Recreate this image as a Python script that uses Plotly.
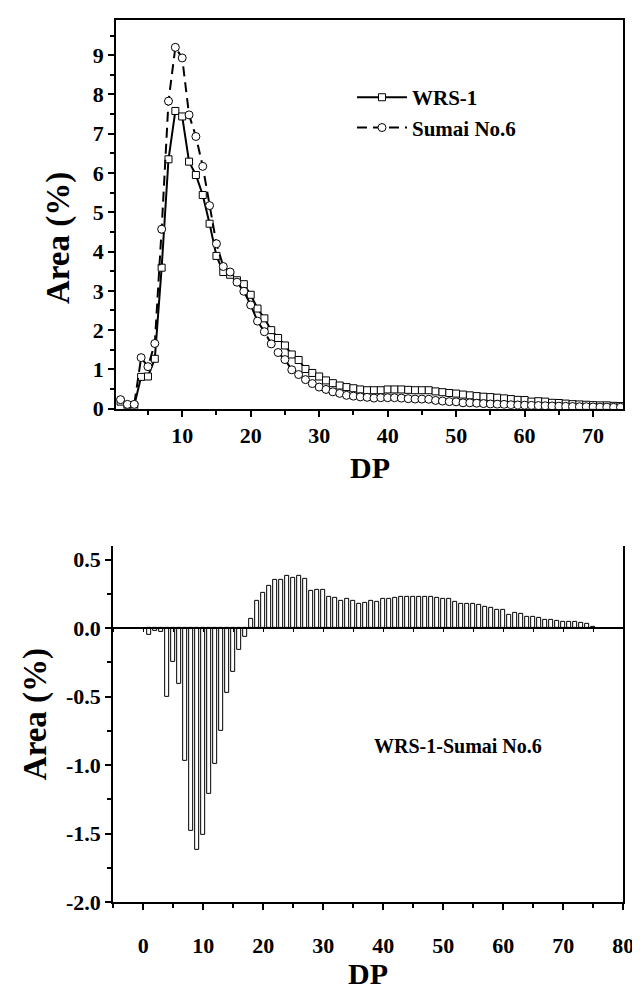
import plotly.graph_objects as go

# ---------------- data ----------------
dp_top = list(range(1, 75))
wrs1 = [0.18, 0.09, 0.08, 0.81, 0.82, 1.27, 3.59, 6.35, 7.58, 7.44,
        6.29, 5.95, 5.44, 4.71, 3.89, 3.48, 3.41, 3.27, 3.17, 2.90,
        2.55, 2.30, 2.00, 1.80, 1.61, 1.38, 1.24, 1.01, 0.91, 0.82,
        0.72, 0.65, 0.59, 0.55, 0.52, 0.49, 0.47, 0.47, 0.47, 0.49,
        0.49, 0.49, 0.48, 0.47, 0.47, 0.47, 0.44, 0.42, 0.40, 0.385,
        0.36, 0.34, 0.32, 0.305, 0.295, 0.28, 0.263, 0.244, 0.225, 0.22,
        0.18, 0.19, 0.18, 0.15, 0.145, 0.13, 0.115, 0.108, 0.10, 0.09,
        0.085, 0.085, 0.073, 0.066]
sumai6 = [0.23, 0.11, 0.11, 1.30, 1.07, 1.66, 4.57, 7.83, 9.20, 8.93,
          7.48, 6.93, 6.17, 5.17, 4.20, 3.62, 3.48, 3.22, 2.99, 2.64,
          2.23, 1.96, 1.65, 1.43, 1.25, 0.99, 0.87, 0.74, 0.64, 0.55,
          0.49, 0.43, 0.39, 0.34, 0.32, 0.30, 0.29, 0.27, 0.28, 0.28,
          0.28, 0.27, 0.255, 0.245, 0.245, 0.24, 0.21, 0.195, 0.18, 0.175,
          0.15, 0.15, 0.14, 0.13, 0.12, 0.115, 0.11, 0.10, 0.095, 0.09,
          0.085, 0.08, 0.075, 0.07, 0.065, 0.06, 0.055, 0.05, 0.05, 0.045,
          0.04, 0.04, 0.035, 0.035]

dp_diff = list(range(1, 76))
diff = [-0.053, -0.02, -0.03, -0.50, -0.245, -0.41, -0.97, -1.48, -1.62, -1.51,
        -1.21, -0.99, -0.75, -0.47, -0.32, -0.156, -0.063, 0.065, 0.20, 0.26,
        0.31, 0.35, 0.35, 0.38, 0.37, 0.38, 0.36, 0.27, 0.28, 0.28,
        0.23, 0.22, 0.20, 0.21, 0.20, 0.18, 0.185, 0.197, 0.19, 0.21,
        0.21, 0.22, 0.225, 0.225, 0.225, 0.23, 0.23, 0.225, 0.22, 0.21,
        0.21, 0.195, 0.18, 0.175, 0.175, 0.166, 0.153, 0.144, 0.13, 0.13,
        0.096, 0.108, 0.103, 0.079, 0.08, 0.072, 0.06, 0.058, 0.05, 0.045,
        0.045, 0.045, 0.038, 0.031, 0.007]

series_names = ["WRS-1", "Sumai No.6"]
diff_label = "WRS-1-Sumai No.6"
x_title = "DP"
y_title = "Area (%)"

top_xticks = [10, 20, 30, 40, 50, 60, 70]
top_xticklabels = ["10", "20", "30", "40", "50", "60", "70"]
top_yticks = [0, 1, 2, 3, 4, 5, 6, 7, 8, 9]
top_yticklabels = ["0", "1", "2", "3", "4", "5", "6", "7", "8", "9"]
bot_xticks = [0, 10, 20, 30, 40, 50, 60, 70, 80]
bot_xticklabels = ["0", "10", "20", "30", "40", "50", "60", "70", "80"]
bot_yticks = [-2.0, -1.5, -1.0, -0.5, 0.0, 0.5]
bot_yticklabels = ["-2.0", "-1.5", "-1.0", "-0.5", "0.0", "0.5"]

# ---------------- layout helpers ----------------
W, H = 640, 994
FONT = "Liberation Serif"
def px_x(p):
    return p / W
def px_y(p):
    return 1 - p / H
def bold(labels):
    return ["<b>%s</b>" % t for t in labels]

top_x = [px_x(110), px_x(626)]
top_y = [px_y(406), px_y(12)]
bot_x = [px_x(107), px_x(626)]
bot_y = [px_y(906), px_y(545)]

top_yr = [0, 9.9]
top_xr = [0.35, 74.4]
bot_yr = [-2.0, 0.6]
bot_xr = [-5, 80]

tickfont = dict(family=FONT, size=22, color="black")
titlefont = dict(family=FONT, size=30, color="black")
ytitlefont = dict(family=FONT, size=33, color="black")

fig = go.Figure()

fig.add_trace(go.Scatter(
    x=dp_top, y=wrs1, name="<b>%s</b>" % series_names[0], mode="lines+markers",
    line=dict(color="black", width=2),
    marker=dict(symbol="square", size=7, color="white", line=dict(width=1, color="black")),
    xaxis="x", yaxis="y"))
fig.add_trace(go.Scatter(
    x=dp_top, y=sumai6, name="<b>%s</b>" % series_names[1], mode="lines+markers",
    line=dict(color="black", width=2, dash="10px,6px"),
    marker=dict(symbol="circle", size=8, color="white", line=dict(width=1, color="black")),
    xaxis="x", yaxis="y"))

fig.add_trace(go.Bar(
    x=dp_diff, y=diff, width=0.62, showlegend=False,
    marker=dict(color="white", line=dict(color="black", width=1)),
    xaxis="x2", yaxis="y2"))
# invisible companion trace so the zero-line axis (x3) is drawn
fig.add_trace(go.Scatter(
    x=dp_diff[:1], y=[0], mode="markers", marker=dict(opacity=0),
    showlegend=False, hoverinfo="skip", xaxis="x3", yaxis="y2"))

common_ax = dict(showgrid=False, zeroline=False, showline=True, linecolor="black",
                 linewidth=2, ticks="outside", tickcolor="black", tickwidth=2,
                 tickfont=tickfont, tickmode="array")

zero_pos = bot_y[0] + (0 - bot_yr[0]) / (bot_yr[1] - bot_yr[0]) * (bot_y[1] - bot_y[0])

fig.update_layout(
    width=W, height=H, margin=dict(l=0, r=0, t=0, b=0),
    paper_bgcolor="white", plot_bgcolor="white",
    showlegend=True,
    legend=dict(x=px_x(350), y=px_y(70), xanchor="left", yanchor="top",
                font=dict(family=FONT, size=21, color="black"),
                bgcolor="rgba(0,0,0,0)", itemwidth=50, tracegroupgap=0,
                itemsizing="trace"),
    xaxis=dict(domain=top_x, range=top_xr, anchor="y", mirror=True,
               tickvals=top_xticks, ticktext=bold(top_xticklabels), ticklen=6,
               minor=dict(dtick=5, tick0=0, ticklen=4, tickwidth=2, ticks="outside", tickcolor="black"),
               **common_ax),
    yaxis=dict(domain=top_y, range=top_yr, anchor="x", mirror=True,
               tickvals=top_yticks, ticktext=bold(top_yticklabels), ticklen=6,
               minor=dict(dtick=0.5, tick0=0, ticklen=4, tickwidth=2, ticks="outside", tickcolor="black"),
               **common_ax),
    xaxis2=dict(domain=bot_x, range=bot_xr, anchor="y2", mirror=False,
                tickvals=bot_xticks, ticktext=bold(bot_xticklabels), ticklen=6,
                ticklabelstandoff=16,
                minor=dict(dtick=5, tick0=0, ticklen=4, tickwidth=2, ticks="outside", tickcolor="black"),
                **common_ax),
    yaxis2=dict(domain=bot_y, range=bot_yr, anchor="x2", mirror=True,
                tickvals=bot_yticks, ticktext=bold(bot_yticklabels), ticklen=6,
                minor=dict(dtick=0.25, tick0=0, ticklen=4, tickwidth=2, ticks="outside", tickcolor="black"),
                **common_ax),
    xaxis3=dict(domain=bot_x, range=bot_xr, overlaying="x2", anchor="free",
                position=zero_pos, showgrid=False, zeroline=False, showline=True,
                linecolor="black", linewidth=2, ticks="outside", tickcolor="black",
                tickwidth=1, ticklen=3, tick0=0, dtick=5, showticklabels=False),
    bargap=0,
)

annotations = [
    dict(text="<b>%s</b>" % x_title, x=(top_x[0] + top_x[1]) / 2, y=px_y(466), xref="paper", yref="paper",
         showarrow=False, font=titlefont, xanchor="center", yanchor="middle"),
    dict(text="<b>%s</b>" % y_title, x=px_x(52), y=px_y(233), xref="paper", yref="paper",
         showarrow=False, font=ytitlefont, textangle=-90, xanchor="center", yanchor="middle"),
    dict(text="<b>%s</b>" % x_title, x=(bot_x[0] + bot_x[1]) / 2, y=px_y(978), xref="paper", yref="paper",
         showarrow=False, font=titlefont, xanchor="center", yanchor="middle"),
    dict(text="<b>%s</b>" % y_title, x=px_x(28), y=px_y(716), xref="paper", yref="paper",
         showarrow=False, font=ytitlefont, textangle=-90, xanchor="center", yanchor="middle"),
    dict(text="<b>%s</b>" % diff_label, x=px_x(458), y=px_y(748), xref="paper", yref="paper",
         showarrow=False, font=dict(family=FONT, size=20, color="black"),
         xanchor="center", yanchor="middle"),
]
fig.update_layout(annotations=annotations)

fig.write_html("out.html")
